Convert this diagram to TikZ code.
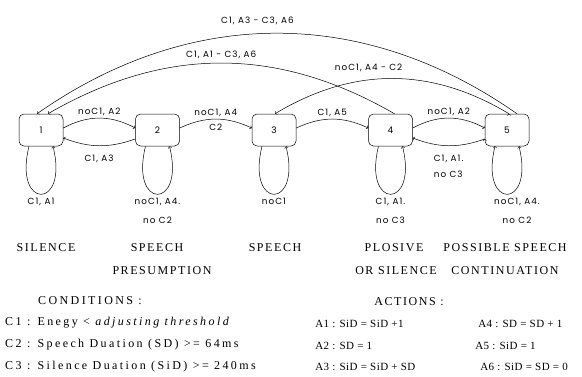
\documentclass[tikz,border=0pt]{standalone}
\usepackage{fontspec}
\setmainfont{Liberation Serif}
\newfontfamily\capfont[LetterSpace=13]{Liberation Serif}
\newfontfamily\condfont[LetterSpace=20]{Liberation Serif}
\newfontfamily\actfont[LetterSpace=4]{Liberation Serif}
\newfontfamily\lblfont[LetterSpace=12]{Poppins}
\usetikzlibrary{positioning, arrows, topaths}

\begin{document}
\begin{tikzpicture}[x=1pt, y=-1pt, >=to, line width=0.5pt,
    state/.style={draw, rounded corners=5pt, minimum width=44pt, minimum height=32pt, inner sep=0pt, font=\lblfont\fontsize{9}{11}\selectfont},
    lbl/.style={inner sep=1pt, font=\lblfont\fontsize{8.8}{11}\selectfont},
    txt/.style={inner sep=0pt, font=\capfont\fontsize{12}{14}\selectfont},
    condtxt/.style={inner sep=0pt, font=\condfont\fontsize{12}{14}\selectfont},
    acttxt/.style={inner sep=0pt, font=\actfont\fontsize{11}{13}\selectfont}]
        \useasboundingbox (0,0) rectangle (582,376);

        % states
        \node[state](1) at (41,130) {1};
        \node[state](2)[right = 72pt of 1]{2};
        \node[state](3)[right = 72pt of 2]{3};
        \node[state](4)[right = 72pt of 3]{4};
        \node[state](5)[right = 72pt of 4]{5};

        % loops
        \path[->, draw]
        ([xshift=-12pt]1.south) edge[out=-104, in=-76, distance=66pt] node[lbl, below=3pt, align=center] {C1, A1} ([xshift=12pt]1.south)
        ([xshift=-12pt]2.south) edge[out=-104, in=-76, distance=66pt] node[lbl, below=3pt, align=center] {noC1, A4.\\[8pt]no C2} ([xshift=12pt]2.south)
        ([xshift=-12pt]3.south) edge[out=-104, in=-76, distance=66pt] node[lbl, below=3pt, align=center] {noC1} ([xshift=12pt]3.south)
        ([xshift=-12pt]4.south) edge[out=-104, in=-76, distance=66pt] node[lbl, below=3pt, align=center] {C1, A1.\\[8pt]no C3} ([xshift=12pt]4.south)
        ([xshift=-12pt]5.south) edge[out=-104, in=-76, distance=66pt] node[lbl, below=3pt, xshift=10pt, align=center] {noC1, A4.\\[8pt]no C2} ([xshift=12pt]5.south);

        % neighbours
        \path[->, draw]
        ([yshift=2pt]1.east) edge[bend left=28] node[lbl, above=1pt] {noC1, A2} ([yshift=2pt]2.west)
        ([yshift=-9pt]2.west) edge[bend left=20] node[lbl, below=8pt] {C1, A3} ([yshift=-8pt]1.east)
        ([yshift=2pt]2.east) edge[bend left=25] node[lbl, above=1pt] {noC1, A4} node[lbl, below=4pt] {C2} ([yshift=2pt]3.west)
        ([yshift=2pt]3.east) edge[bend left=25] node[lbl, above=1pt] {C1, A5} ([yshift=2pt]4.west)
        ([yshift=2pt]4.east) edge[bend left=28] node[lbl, above=1pt] {noC1, A2} ([yshift=2pt]5.west)
        ([yshift=-9pt]5.west) edge[bend left=20] node[lbl, below=8pt, align=left] {C1, A1.\\[5pt]no C3} ([yshift=-8pt]4.east);

        % back to silence / speech
        \path[->, draw]
        ([xshift=10pt]5.north) edge[bend right=35] node[lbl, above=8pt, pos=0.54] {C1, A3 - C3, A6} ([xshift=-4pt]1.north)
        ([xshift=4pt]4.north) edge[bend right=30] node[lbl, above=3pt] {C1, A1 - C3, A6} ([xshift=7pt]1.north)
        ([xshift=2pt]5.north) edge[bend right=31] node[lbl, above=7pt, pos=0.6] {noC1, A4 - C2} ([xshift=1pt]3.north);

        % state names
        \node[txt](sil) at (46,248) {SILENCE};
        \node[txt](sp1) at (157,248) {SPEECH};
        \node[txt](pre) at (162,271) {PRESUMPTION};
        \node[txt](sp2) at (275,248) {SPEECH};
        \node[txt](plo) at (394,248) {PLOSIVE};
        \node[txt](ors) at (396,271) {OR SILENCE};
        \node[txt](pos) at (505,248) {POSSIBLE SPEECH};
        \node[txt](con) at (505,271) {CONTINUATION};

        % conditions and actions
        \node[condtxt](cond) at (90,301) {CONDITIONS :};
        \node[condtxt, anchor=west](c1) at (5,323) {C1 : Enegy < \textit{adjusting threshold}};
        \node[condtxt, anchor=west](c2) at (5,345) {C2 : Speech Duation (SD) >= 64ms};
        \node[condtxt, anchor=west](c3) at (5,367) {C3 : Silence Duation (SiD) >= 240ms};

        \node[txt](act) at (409,302) {ACTIONS :};
        \node[acttxt, anchor=west](a1) at (315,324) {A1 : SiD = SiD +1};
        \node[acttxt, anchor=west](a2) at (315,346) {A2 : SD = 1};
        \node[acttxt, anchor=west](a3) at (315,367) {A3 : SiD = SiD + SD};
        \node[acttxt, anchor=west](a4) at (478,324) {A4 : SD = SD + 1};
        \node[acttxt, anchor=west](a5) at (475,346) {A5 : SiD = 1};
        \node[acttxt, anchor=west](a6) at (480,367) {A6 : SiD = SD = 0};
    \end{tikzpicture}
\end{document}
